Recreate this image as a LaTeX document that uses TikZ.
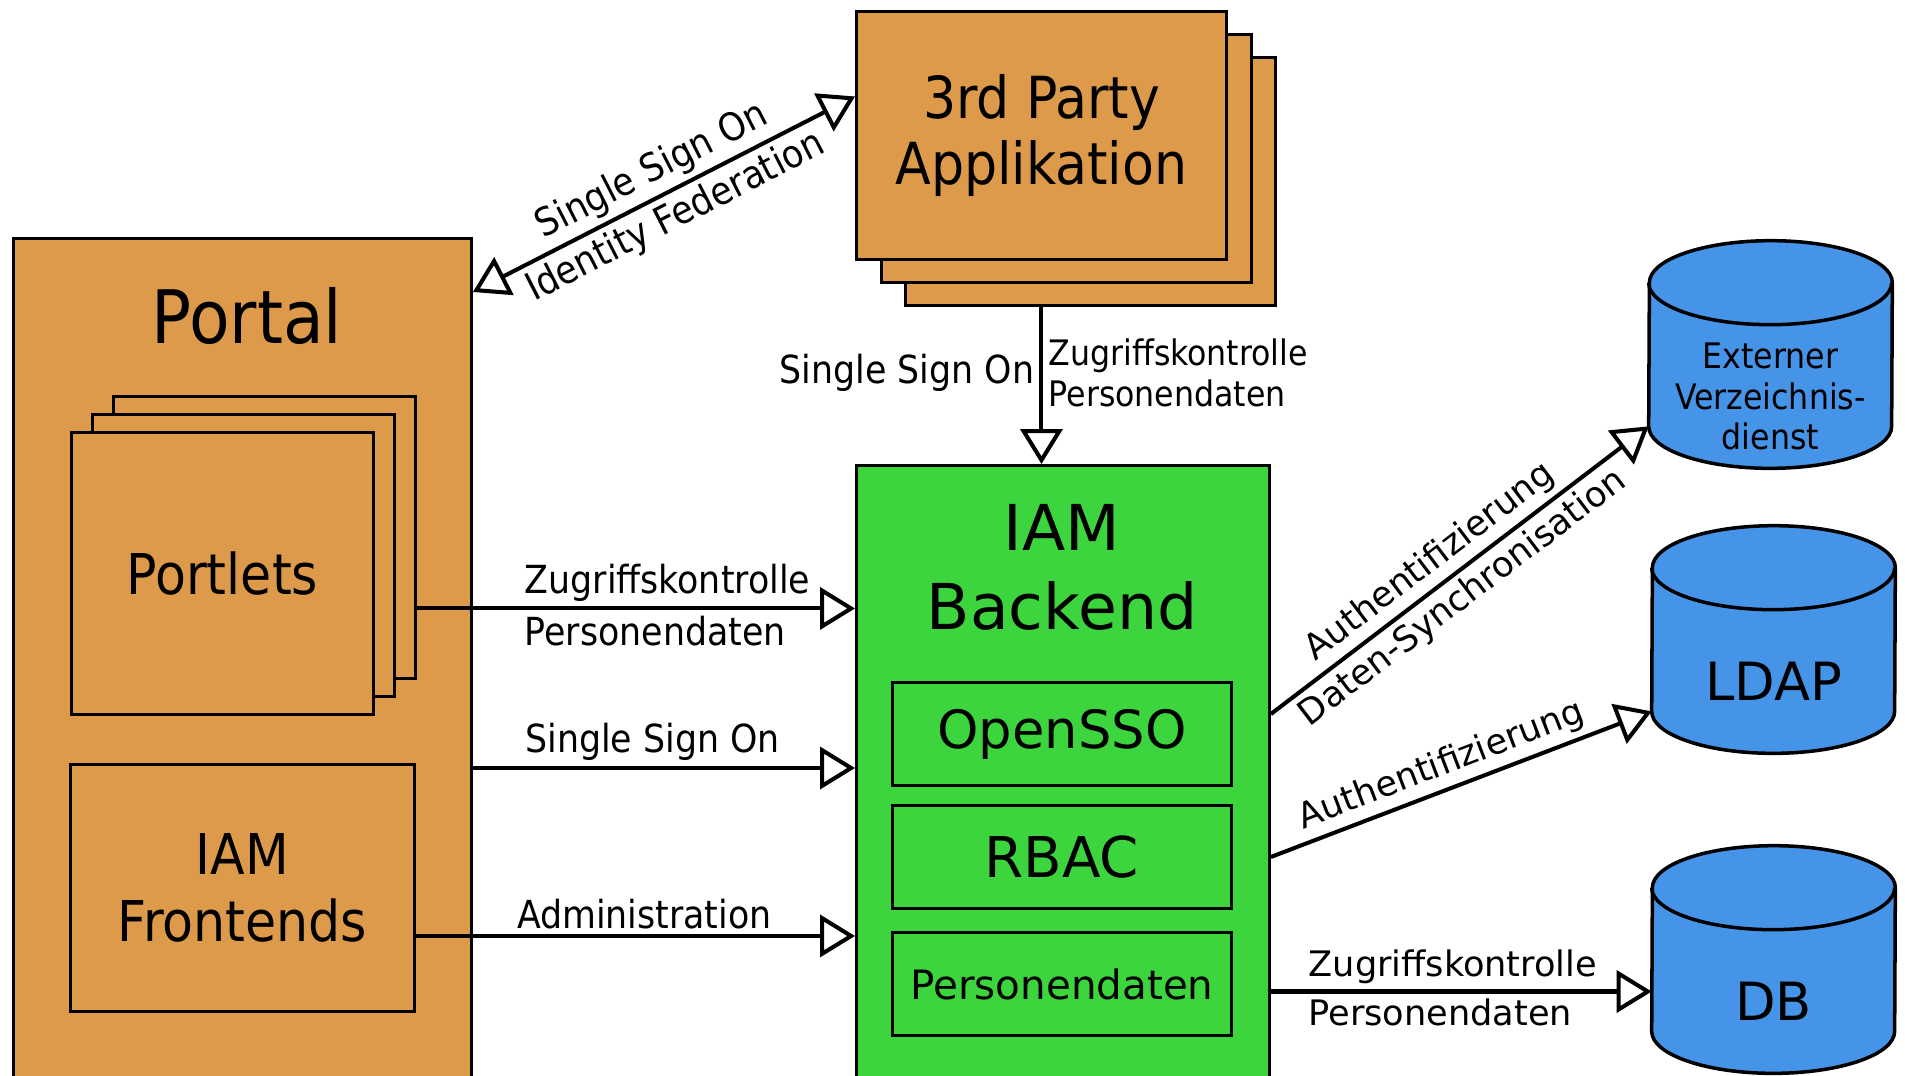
\documentclass[tikz,border=0pt]{standalone}
\usepackage{fontspec}
\setmainfont{DejaVu Sans}
\newfontfamily\narrowfont{DejaVu Sans Condensed}
\usetikzlibrary{arrows.meta}
\usetikzlibrary{positioning}
\usetikzlibrary{backgrounds}

\definecolor{portalorange}{RGB}{221,154,74}
\definecolor{backendgreen}{RGB}{61,213,61}
\definecolor{storeblue}{RGB}{70,148,232}

\begin{document}
\begin{tikzpicture}[x=0.02cm, y=0.02cm,
    box/.style={rectangle, draw, line width=1.7pt, fill=portalorange, anchor=north west, inner sep=0pt},
    module/.style={rectangle, draw, line width=1.7pt, fill=backendgreen, minimum width=6.8cm, minimum height=2.06cm, inner sep=0pt},
    store/.style={rectangle, minimum width=4.86cm, minimum height=2.86cm, inner sep=0pt, align=center},
    flow/.style={line width=2.3pt, -{Triangle[open, length=0.7cm, width=0.84cm]}},
    twoway/.style={line width=2.3pt, {Triangle[open, length=0.7cm, width=0.84cm]}-{Triangle[open, length=0.7cm, width=0.84cm]}},
    lbl/.style={font=\narrowfont\fontsize{22}{26}\selectfont, inner sep=3pt},
    rlbl/.style={font=\fontsize{20}{24}\selectfont, inner sep=3pt}]

    \useasboundingbox (0,0) rectangle (1905,-1075);
    \clip (0,0) rectangle (1905,-1075);

    % portal with portlets and frontends
    \node[box, minimum width=9.16cm, minimum height=16.96cm] (portal) at (12,-237) {};
    \node[font=\narrowfont\fontsize{42}{48}\selectfont] (portaltitle) at (247,-316) {Portal};
    \node[box, minimum width=6.04cm, minimum height=5.64cm] (plback) at (112,-395) {};
    \node[box, minimum width=6.04cm, minimum height=5.64cm] (plmid) at (91,-413) {};
    \node[box, minimum width=6.04cm, minimum height=5.64cm, font=\narrowfont\fontsize{32}{38}\selectfont] (portlets) at (70,-431) {Portlets};
    \node[box, minimum width=6.88cm, minimum height=4.94cm, align=center, font=\narrowfont\fontsize{32}{38}\selectfont] (frontends) at (69,-763) {IAM\\Frontends};

    % stack of external applications
    \node[box, minimum width=7.4cm, minimum height=4.96cm] (appback) at (904,-56) {};
    \node[box, minimum width=7.4cm, minimum height=4.96cm] (appmid) at (880,-33) {};
    \node[box, minimum width=7.4cm, minimum height=4.96cm, align=center, font=\narrowfont\fontsize{33}{38}\selectfont] (app) at (855,-10) {3rd Party\\Applikation};

    % backend
    \node[box, fill=backendgreen, minimum width=8.26cm, minimum height=12.42cm] (backend) at (855,-464) {};
    \node[align=center, font=\fontsize{36}{45}\selectfont] (backendtitle) at (1062,-567) {IAM\\Backend};
    \node[module, font=\fontsize{30}{36}\selectfont] (opensso) at (1062,-734) {OpenSSO};
    \node[module, below=0.34cm of opensso, font=\fontsize{32}{38}\selectfont] (rbac) {RBAC};
    \node[module, below=0.42cm of rbac, font=\fontsize{23}{28}\selectfont] (persdata) {Personendaten};

    % data stores
    \node[store, font=\narrowfont\fontsize{20}{23}\selectfont] (ext) at (1770.5,-396.5) {Externer\\Verzeichnis-\\dienst};
    \node[store, font=\fontsize{30}{36}\selectfont] (ldap) at (1773.5,-681.5) {LDAP};
    \node[store, font=\fontsize{30}{36}\selectfont] (db) at (1773.5,-1001.5) {DB};

    \begin{scope}[on background layer]
        \foreach \s in {ext, ldap, db} {
            \filldraw[fill=storeblue, line width=2pt]
                ([yshift=0.84cm]\s.south west) arc[start angle=180, end angle=360, x radius=2.43cm, y radius=0.84cm]
                -- ([yshift=0.84cm]\s.north east) arc[start angle=0, end angle=180, x radius=2.43cm, y radius=0.84cm] -- cycle;
            \draw[line width=2pt] ([yshift=0.84cm]\s.north west) arc[start angle=180, end angle=360, x radius=2.43cm, y radius=0.84cm];
        }
    \end{scope}

    % portal side -> backend
    \coordinate (plout) at ([yshift=-1.42cm]plback.east);
    \draw[flow] (plout) -- (plout -| backend.west)
        node[lbl, pos=0.23, anchor=south west] {Zugriffskontrolle}
        node[lbl, pos=0.23, anchor=north west] {Personendaten};
    \coordinate (ssoout) at ([yshift=-0.1cm]portal.east |- frontends.north);
    \draw[flow] (ssoout) -- (ssoout -| backend.west)
        node[lbl, pos=0.47, above] {Single Sign On};
    \coordinate (adminout) at ([yshift=-0.96cm]frontends.east);
    \draw[flow] (adminout) -- (adminout -| backend.west)
        node[lbl, pos=0.52, above] {Administration};

    % federation between portal and applications
    \coordinate (fedportal) at ([yshift=-1.1cm]portal.north east);
    \coordinate (fedapp) at ([yshift=0.78cm]app.west);
    \draw[twoway] (fedportal) -- (fedapp)
        node[lbl, midway, above, sloped] {Single Sign On}
        node[lbl, midway, below, sloped] {Identity Federation};

    % applications -> backend
    \draw[flow] (app.south |- appback.south) -- (app.south |- backend.north)
        node[lbl, pos=0.42, left] {Single Sign On}
        node[lbl, pos=0.42, right, align=left, font=\narrowfont\fontsize{20}{23}\selectfont] {Zugriffskontrolle\\Personendaten};

    % backend -> data stores
    \path (backend.east |- opensso) ++(0,20) coordinate (syncout);
    \draw[flow] (syncout) -- ([yshift=0.84cm]ext.south west)
        node[rlbl, pos=0.46, above, sloped] {Authentifizierung}
        node[rlbl, pos=0.47, below, sloped] {Daten-Synchronisation};
    \draw[flow] (backend.east |- rbac) -- ([yshift=0.84cm]ldap.south west)
        node[rlbl, pos=0.47, above, sloped] {Authentifizierung};
    \coordinate (dbin) at ([yshift=0.2cm]db.west);
    \draw[flow] (backend.east |- dbin) -- (dbin)
        node[rlbl, pos=0.08, anchor=south west] {Zugriffskontrolle}
        node[rlbl, pos=0.08, anchor=north west] {Personendaten};
\end{tikzpicture}
\end{document}
